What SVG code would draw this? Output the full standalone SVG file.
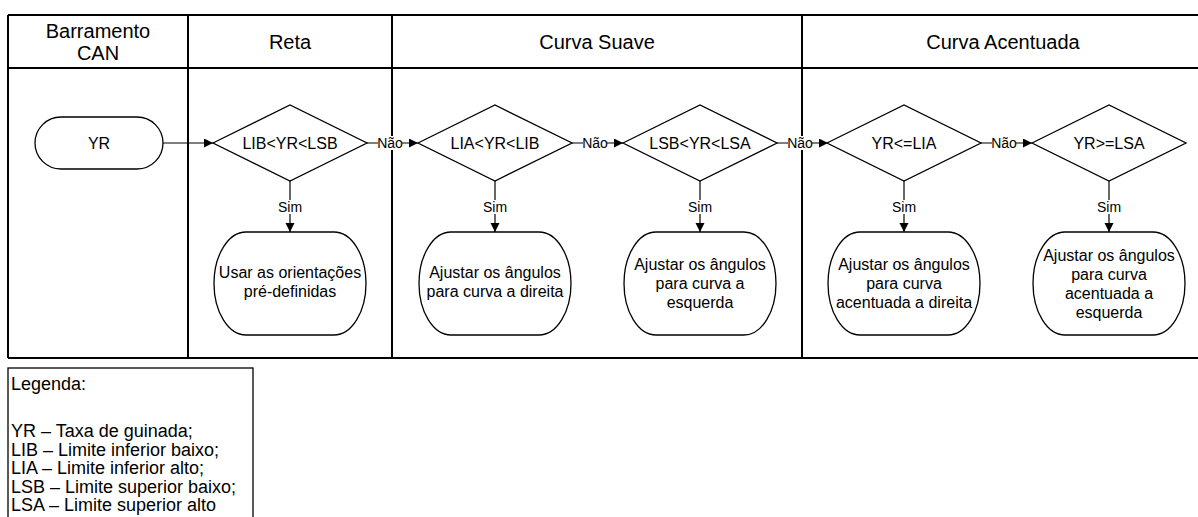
<svg xmlns="http://www.w3.org/2000/svg" width="1198" height="517" viewBox="0 0 1198 517">
  <style>
    text{font-family:"Liberation Sans",Arial,sans-serif;fill:#000}
    .hd{font-size:20px;text-anchor:middle}
    .dt{font-size:16px;text-anchor:middle}
    .nt{font-size:16px;text-anchor:middle}
    .lb{font-size:14px;text-anchor:middle}
    .lg{font-size:18px}
    .grid{stroke:#000;stroke-width:2;fill:none}
    .shape{fill:#fff;stroke:#000;stroke-width:1.3}
    .conn{stroke:#000;stroke-width:1.2;fill:none}
    .bg{fill:#fff}
  </style>
  <defs>
    <marker id="arrow" markerUnits="userSpaceOnUse" markerWidth="10" markerHeight="10" refX="9" refY="4.5" orient="auto">
      <path d="M0,0 L9,4.5 L0,9 z" fill="#000"/>
    </marker>
  </defs>

  <!-- swimlane frame -->
  <g id="lanes">
    <path class="grid" d="M8,15 H1198 M8,68 H1198 M8,358 H1198 M8,15 V358 M188,15 V358 M392,15 V358 M802,15 V358"/>
    <text class="hd" x="98" y="38">Barramento</text>
    <text class="hd" x="98" y="60">CAN</text>
    <text class="hd" x="290" y="49">Reta</text>
    <text class="hd" x="597" y="49">Curva Suave</text>
    <text class="hd" x="1003" y="49">Curva Acentuada</text>
  </g>

  <!-- connectors -->
  <g id="connectors">
    <line class="conn" x1="163" y1="143" x2="213" y2="143" marker-end="url(#arrow)"/>
    <line class="conn" x1="367" y1="143" x2="418" y2="143" marker-end="url(#arrow)"/>
    <line class="conn" x1="572" y1="143" x2="623" y2="143" marker-end="url(#arrow)"/>
    <line class="conn" x1="777" y1="143" x2="828" y2="143" marker-end="url(#arrow)"/>
    <line class="conn" x1="981" y1="143" x2="1032" y2="143" marker-end="url(#arrow)"/>
    <line class="conn" x1="290" y1="181" x2="290" y2="232" marker-end="url(#arrow)"/>
    <line class="conn" x1="495" y1="181" x2="495" y2="232" marker-end="url(#arrow)"/>
    <line class="conn" x1="700" y1="181" x2="700" y2="232" marker-end="url(#arrow)"/>
    <line class="conn" x1="904" y1="181" x2="904" y2="232" marker-end="url(#arrow)"/>
    <line class="conn" x1="1109" y1="181" x2="1109" y2="232" marker-end="url(#arrow)"/>
    <!-- connector labels -->
    <rect class="bg" x="378" y="136" width="24" height="14"/>
    <text class="lb" x="390" y="148">Não</text>
    <rect class="bg" x="583" y="136" width="24" height="14"/>
    <text class="lb" x="595" y="148">Não</text>
    <rect class="bg" x="788" y="136" width="24" height="14"/>
    <text class="lb" x="800" y="148">Não</text>
    <rect class="bg" x="992" y="136" width="24" height="14"/>
    <text class="lb" x="1004" y="148">Não</text>
    <rect class="bg" x="279" y="200" width="22" height="14"/>
    <text class="lb" x="290" y="212">Sim</text>
    <rect class="bg" x="484" y="200" width="22" height="14"/>
    <text class="lb" x="495" y="212">Sim</text>
    <rect class="bg" x="689" y="200" width="22" height="14"/>
    <text class="lb" x="700" y="212">Sim</text>
    <rect class="bg" x="893" y="200" width="22" height="14"/>
    <text class="lb" x="904" y="212">Sim</text>
    <rect class="bg" x="1098" y="200" width="22" height="14"/>
    <text class="lb" x="1109" y="212">Sim</text>
  </g>

  <!-- start terminal -->
  <g id="yr">
    <rect class="shape" x="35" y="117" width="128" height="52" rx="26" ry="26"/>
    <text class="dt" x="99" y="149">YR</text>
  </g>

  <!-- decisions -->
  <g id="d-reta">
    <polygon class="shape" points="213,143 290,105 367,143 290,181"/>
    <text class="dt" x="290" y="149">LIB&lt;YR&lt;LSB</text>
  </g>
  <g id="d-suave-dir">
    <polygon class="shape" points="418,143 495,105 572,143 495,181"/>
    <text class="dt" x="495" y="149">LIA&lt;YR&lt;LIB</text>
  </g>
  <g id="d-suave-esq">
    <polygon class="shape" points="623,143 700,105 777,143 700,181"/>
    <text class="dt" x="700" y="149">LSB&lt;YR&lt;LSA</text>
  </g>
  <g id="d-acent-dir">
    <polygon class="shape" points="827,143 904,105 981,143 904,181"/>
    <text class="dt" x="904" y="149">YR&lt;=LIA</text>
  </g>
  <g id="d-acent-esq">
    <polygon class="shape" points="1032,143 1109,105 1186,143 1109,181"/>
    <text class="dt" x="1109" y="149">YR&gt;=LSA</text>
  </g>

  <!-- actions -->
  <g id="a-reta">
    <rect class="shape" x="214" y="232" width="152" height="103" rx="32" ry="51.5"/>
    <text class="nt" x="290" y="278">Usar as orientações</text>
    <text class="nt" x="290" y="297">pré-definidas</text>
  </g>
  <g id="a-suave-dir">
    <rect class="shape" x="419" y="232" width="152" height="103" rx="32" ry="51.5"/>
    <text class="nt" x="495" y="278">Ajustar os ângulos</text>
    <text class="nt" x="495" y="297">para curva a direita</text>
  </g>
  <g id="a-suave-esq">
    <rect class="shape" x="624" y="232" width="152" height="103" rx="32" ry="51.5"/>
    <text class="nt" x="700" y="270">Ajustar os ângulos</text>
    <text class="nt" x="700" y="289">para curva a</text>
    <text class="nt" x="700" y="308">esquerda</text>
  </g>
  <g id="a-acent-dir">
    <rect class="shape" x="828" y="232" width="152" height="103" rx="32" ry="51.5"/>
    <text class="nt" x="904" y="270">Ajustar os ângulos</text>
    <text class="nt" x="904" y="289">para curva</text>
    <text class="nt" x="904" y="308">acentuada a direita</text>
  </g>
  <g id="a-acent-esq">
    <rect class="shape" x="1033" y="232" width="152" height="103" rx="32" ry="51.5"/>
    <text class="nt" x="1109" y="261">Ajustar os ângulos</text>
    <text class="nt" x="1109" y="280">para curva</text>
    <text class="nt" x="1109" y="299">acentuada a</text>
    <text class="nt" x="1109" y="318">esquerda</text>
  </g>

  <!-- legend -->
  <g id="legend">
    <rect x="8" y="368" width="245" height="160" fill="#fff" stroke="#000" stroke-width="1.3"/>
    <text class="lg" x="11" y="390">Legenda:</text>
    <text class="lg" x="11" y="437">YR – Taxa de guinada;</text>
    <text class="lg" x="11" y="455.5">LIB – Limite inferior baixo;</text>
    <text class="lg" x="11" y="474">LIA – Limite inferior alto;</text>
    <text class="lg" x="11" y="492.5">LSB – Limite superior baixo;</text>
    <text class="lg" x="11" y="511">LSA – Limite superior alto</text>
  </g>
</svg>
